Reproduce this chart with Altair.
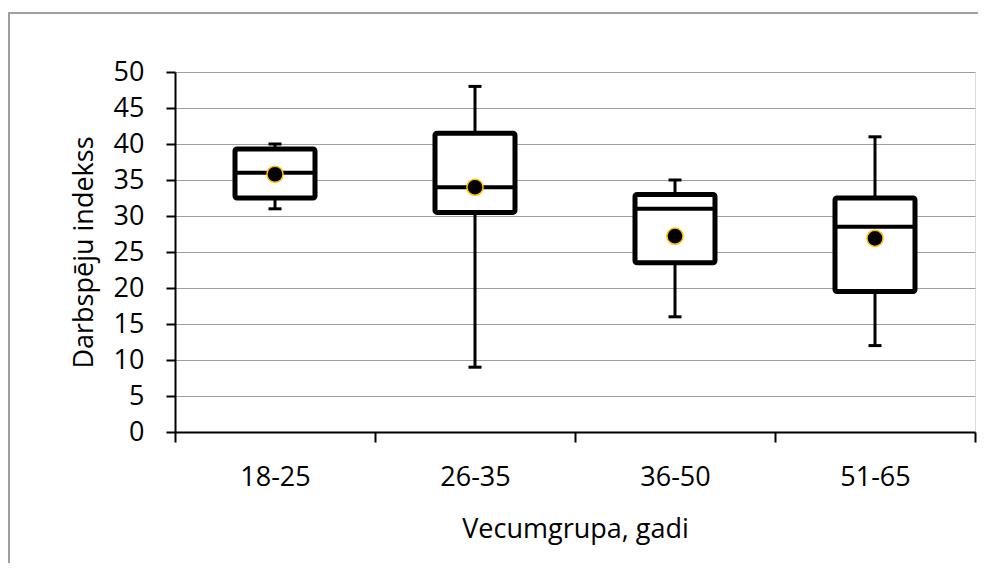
import altair as alt
import pandas as pd

groups = ["18-25", "26-35", "36-50", "51-65"]
whisker_low = [31, 9, 16, 12]
q1 = [32.5, 30.5, 23.5, 19.5]
median = [36, 34, 31, 28.5]
q3 = [39.3, 41.5, 33, 32.5]
whisker_high = [40, 48, 35, 41]
mean = [35.8, 34, 27.2, 26.9]
y_ticks = [0, 5, 10, 15, 20, 25, 30, 35, 40, 45, 50]

df = pd.DataFrame({
    "group": groups, "lo": whisker_low, "q1": q1, "med": median,
    "q3": q3, "hi": whisker_high, "mean": mean,
})

FONT = "Open Sans"
FS = 27

x_enc = alt.X(
    "group:N", sort=groups,
    scale=alt.Scale(paddingInner=0, paddingOuter=0),
    axis=alt.Axis(
        title="Vecumgrupa, gadi", labelAngle=0, tickBand="extent",
        domainColor="black", domainWidth=2, tickColor="black", tickWidth=2,
        tickSize=10, labelPadding=22, titlePadding=26,
        labelFont=FONT, labelFontSize=FS, titleFont=FONT, titleFontSize=FS,
        titleFontWeight="normal", labelColor="black", titleColor="black",
    ),
)
y_scale = alt.Scale(domain=[0, 50], nice=False)
y_axis = alt.Axis(
    title="Darbspēju indekss", values=y_ticks,
    domainColor="black", domainWidth=2, tickColor="black", tickWidth=2,
    tickSize=9, labelPadding=22, titlePadding=15, labelOverlap=False,
    grid=True, gridColor="#a0a0a0", gridWidth=1,
    labelFont=FONT, labelFontSize=FS, titleFont=FONT, titleFontSize=FS,
    titleFontWeight="normal", labelColor="black", titleColor="black",
)


def Y(field):
    return alt.Y(field, scale=y_scale, axis=y_axis)


base = alt.Chart(df)

whisker = base.mark_rule(color="black", strokeWidth=3, opacity=1).encode(
    x=x_enc, y=Y("lo:Q"), y2="hi:Q"
)
cap_lo = base.mark_tick(color="black", size=13, thickness=3, opacity=1).encode(
    x=x_enc, y=Y("lo:Q")
)
cap_hi = base.mark_tick(color="black", size=13, thickness=3, opacity=1).encode(
    x=x_enc, y=Y("hi:Q")
)
box = base.mark_bar(fill="white", stroke="black", strokeWidth=5, size=80,
                    cornerRadius=2, strokeJoin="round", opacity=1).encode(
    x=x_enc, y=Y("q1:Q"), y2="q3:Q"
)
med = base.mark_tick(color="black", size=82, thickness=4, opacity=1).encode(
    x=x_enc, y=Y("med:Q")
)
mean_pt = base.mark_point(filled=True, fill="black", stroke="#FFC000",
                          strokeWidth=1.5, size=260, opacity=1).encode(
    x=x_enc, y=Y("mean:Q")
)

border = alt.Chart(pd.DataFrame({"a": [0]})).mark_rect(
    fill=None, stroke="#a0a0a0", strokeWidth=2
).encode(
    x=alt.value(-166), x2=alt.value(900), y=alt.value(-59), y2=alt.value(600)
)

chart = alt.layer(border, whisker, cap_lo, cap_hi, box, med, mean_pt).properties(
    width=800, height=360,
    autosize=alt.AutoSizeParams(type="none"),
    padding={"left": 167, "top": 64, "right": 3, "bottom": 131},
).configure_view(stroke=None).configure(background="white")

chart.save("out.html", embed_options={"renderer": "svg", "actions": False})
